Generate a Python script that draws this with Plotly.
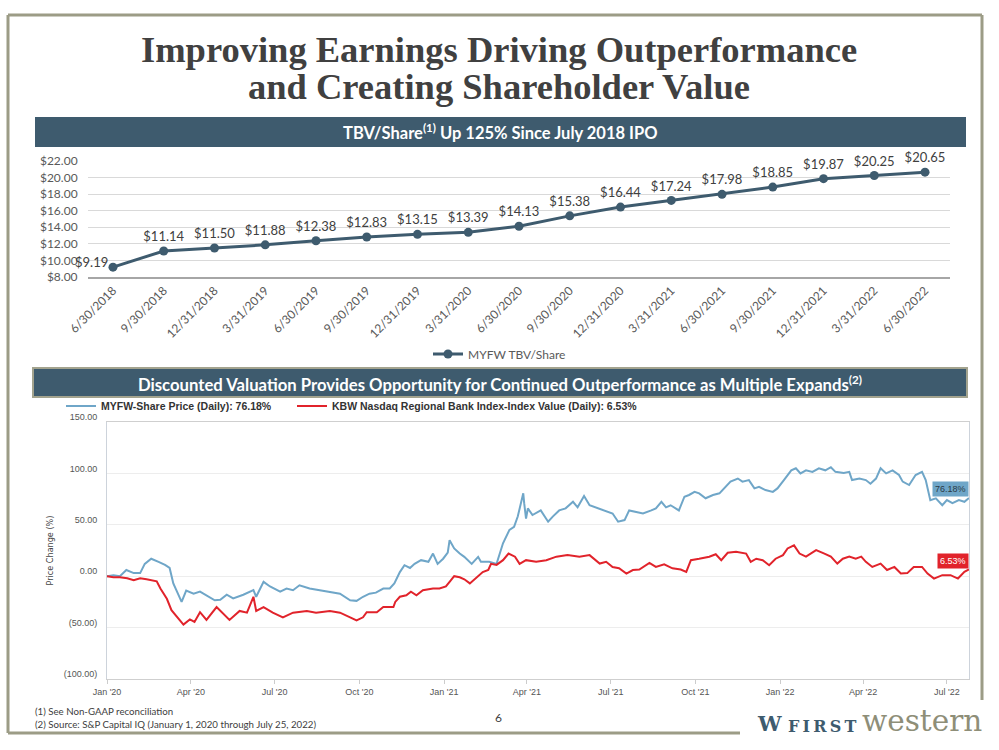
import plotly.graph_objects as go

W, H = 999, 750

# ---------------- data ----------------
tbv_dates = ["6/30/2018", "9/30/2018", "12/31/2018", "3/31/2019", "6/30/2019", "9/30/2019",
             "12/31/2019", "3/31/2020", "6/30/2020", "9/30/2020", "12/31/2020", "3/31/2021",
             "6/30/2021", "9/30/2021", "12/31/2021", "3/31/2022", "6/30/2022"]
tbv_values = [9.19, 11.14, 11.50, 11.88, 12.38, 12.83, 13.15, 13.39, 14.13, 15.38, 16.44,
              17.24, 17.98, 18.85, 19.87, 20.25, 20.65]

myfw_dates = [
    "2020-01-01", "2020-01-08", "2020-01-15", "2020-01-22", "2020-01-30",
    "2020-02-06", "2020-02-11", "2020-02-18", "2020-02-26",
    "2020-03-04", "2020-03-09", "2020-03-13", "2020-03-18", "2020-03-22", "2020-03-27",
    "2020-04-04", "2020-04-11", "2020-04-18", "2020-04-27",
    "2020-05-03", "2020-05-10", "2020-05-17", "2020-05-28",
    "2020-06-08", "2020-06-11", "2020-06-19", "2020-06-26",
    "2020-07-07", "2020-07-14", "2020-07-21", "2020-07-28",
    "2020-08-08", "2020-08-19", "2020-08-30",
    "2020-09-10", "2020-09-21", "2020-09-28",
    "2020-10-05", "2020-10-12", "2020-10-19", "2020-10-27",
    "2020-11-03", "2020-11-08", "2020-11-14", "2020-11-19", "2020-11-25", "2020-11-30",
    "2020-12-07", "2020-12-15", "2020-12-20", "2020-12-25", "2020-12-31",
    "2021-01-05", "2021-01-07", "2021-01-12", "2021-01-18", "2021-01-23", "2021-01-31",
    "2021-02-07", "2021-02-10", "2021-02-19", "2021-02-27",
    "2021-03-06", "2021-03-13", "2021-03-18", "2021-03-22", "2021-03-26", "2021-03-28",
    "2021-03-29", "2021-03-31",
    "2021-04-02", "2021-04-07", "2021-04-16", "2021-04-24", "2021-04-29",
    "2021-05-06", "2021-05-13", "2021-05-21", "2021-05-26",
    "2021-06-02", "2021-06-08", "2021-06-17", "2021-06-26",
    "2021-07-03", "2021-07-09", "2021-07-16", "2021-07-21", "2021-07-28",
    "2021-08-05", "2021-08-14", "2021-08-19", "2021-08-25", "2021-08-30",
    "2021-09-04", "2021-09-13", "2021-09-19", "2021-09-24", "2021-09-30",
    "2021-10-05", "2021-10-12", "2021-10-20", "2021-10-27",
    "2021-11-03", "2021-11-08", "2021-11-16", "2021-11-21", "2021-11-28",
    "2021-12-04", "2021-12-09", "2021-12-16", "2021-12-24", "2021-12-29",
    "2022-01-05", "2022-01-13", "2022-01-18", "2022-01-23", "2022-01-29",
    "2022-02-05", "2022-02-12", "2022-02-19", "2022-02-25",
    "2022-03-02", "2022-03-11", "2022-03-17", "2022-03-20", "2022-03-28",
    "2022-04-04", "2022-04-09", "2022-04-15", "2022-04-20", "2022-04-26",
    "2022-05-03", "2022-05-10", "2022-05-14", "2022-05-21", "2022-05-28",
    "2022-06-04", "2022-06-08", "2022-06-13", "2022-06-19", "2022-06-26",
    "2022-07-01", "2022-07-07", "2022-07-14", "2022-07-20", "2022-07-25"]
myfw_values = [
    0, 1, 0, 6, 3,
    3, 12, 17, 14,
    11, 8, -7, -17, -25, -14,
    -17, -15, -18.5, -23.4,
    -23, -18, -21.6, -18,
    -13.6, -20, -5.5, -10,
    -15, -12, -13.6, -8.8,
    -12, -13.6, -15,
    -17, -23.4, -24,
    -20, -17, -16, -12,
    -12, -7, 4, 10.7, 8, 12,
    15.6, 14, 22, 12, 17,
    23, 35, 27, 22, 18.8, 12,
    18.8, 14, 14, 12,
    32, 45, 48, 58, 74, 80.6,
    71, 56,
    66, 59.5, 64, 53, 58,
    64, 66, 72.4, 67,
    78, 69, 66, 62.7,
    61, 53, 54.6, 64, 62.7,
    61, 64, 66, 72.4, 67,
    69, 64, 77.3, 79, 82,
    80.6, 75.8, 79, 80.6,
    87, 92, 95, 92, 93.5,
    85.4, 87, 83.8, 82, 85.4,
    93.5, 103, 105, 100, 103,
    101.5, 105, 103, 106,
    101.5, 100.5, 101.5, 93.5, 95,
    93.5, 90, 95, 105, 100,
    103, 98.4, 92, 88.7, 98.4,
    101.5, 93.5, 74, 75.8, 69,
    74, 71, 74, 72.4, 76.18]

kbw_dates = [
    "2020-01-01", "2020-01-08", "2020-01-15", "2020-01-23", "2020-01-30",
    "2020-02-06", "2020-02-13", "2020-02-20", "2020-02-24", "2020-02-28",
    "2020-03-06", "2020-03-11", "2020-03-18", "2020-03-24", "2020-03-31",
    "2020-04-05", "2020-04-11", "2020-04-18", "2020-04-29",
    "2020-05-06", "2020-05-13", "2020-05-24",
    "2020-06-01", "2020-06-08", "2020-06-11", "2020-06-19", "2020-06-29",
    "2020-07-10", "2020-07-21",
    "2020-08-05", "2020-08-15", "2020-08-30",
    "2020-09-10", "2020-09-21", "2020-09-28",
    "2020-10-05", "2020-10-09", "2020-10-20", "2020-10-27",
    "2020-11-07", "2020-11-09", "2020-11-14", "2020-11-21", "2020-11-26",
    "2020-12-02", "2020-12-09", "2020-12-20", "2020-12-27",
    "2021-01-03", "2021-01-07", "2021-01-12", "2021-01-18", "2021-01-23", "2021-01-29",
    "2021-02-05", "2021-02-12", "2021-02-18", "2021-02-21", "2021-02-27",
    "2021-03-06", "2021-03-12", "2021-03-19", "2021-03-24", "2021-03-31",
    "2021-04-11", "2021-04-22",
    "2021-05-03", "2021-05-15", "2021-05-28",
    "2021-06-08", "2021-06-19", "2021-06-26",
    "2021-07-03", "2021-07-10", "2021-07-18", "2021-07-25",
    "2021-08-01", "2021-08-12", "2021-08-19", "2021-08-28",
    "2021-09-06", "2021-09-15", "2021-09-21", "2021-09-26",
    "2021-10-05", "2021-10-16", "2021-10-23", "2021-10-29",
    "2021-11-05", "2021-11-14", "2021-11-25", "2021-11-30",
    "2021-12-06", "2021-12-13", "2021-12-20", "2021-12-27",
    "2022-01-04", "2022-01-09", "2022-01-16", "2022-01-22", "2022-01-29",
    "2022-02-09", "2022-02-18", "2022-02-25",
    "2022-03-04", "2022-03-10", "2022-03-17", "2022-03-24", "2022-03-30",
    "2022-04-04", "2022-04-11", "2022-04-20", "2022-04-27",
    "2022-05-05", "2022-05-12", "2022-05-19", "2022-05-26",
    "2022-06-04", "2022-06-10", "2022-06-17", "2022-06-26",
    "2022-07-05", "2022-07-13", "2022-07-20", "2022-07-25"]
kbw_values = [
    0, -1, -1, -2, -4,
    -2, -3, -4, -5, -12,
    -22, -33, -40, -47, -42,
    -44.5, -35, -42.5, -30,
    -36.5, -42.5, -33.8,
    -35.5, -20, -33.8, -30, -35.5,
    -40, -35.5,
    -33.8, -35.5, -33.8,
    -35.5, -40, -43,
    -40, -35, -35, -30,
    -30, -25, -20, -18.5, -15,
    -18.5, -13.6, -12, -12,
    -10, -5.5, 0, -1, -3, -7,
    -1, 4, 6, 12, 11,
    15.6, 22, 19, 12, 15.6,
    14, 15.6,
    19, 20.5, 19,
    20.5, 12.3, 14,
    9, 7.7, 2.6, 6,
    6.5, 13, 9, 11.5,
    7.7, 6.5, 4.2, 15.6,
    17, 19, 21.4, 15.6,
    22.8, 23.7, 22, 14,
    17, 15.6, 10.7, 17,
    20.5, 27, 30, 22, 19,
    25.3, 22, 19,
    12.3, 17, 19, 17, 19,
    14, 9, 12.3, 6,
    9, 2.6, 3, 9,
    9, 2.6, -2.3, 1,
    1, -2.3, 4.2, 6.53]

pct_tickvals = [-100, -50, 0, 50, 100, 150]
pct_ticktext = ["(100.00)", "(50.00)", "0.00", "50.00", "100.00", "150.00"]

myfw_name = "MYFW-Share Price (Daily): 76.18%"
kbw_name = "KBW Nasdaq Regional Bank Index-Index Value (Daily): 6.53%"
myfw_last_label = "76.18%"
kbw_last_label = "6.53%"

# ---------------- style ----------------
SLATE = "#3E5B6E"
BLUE = "#6FA6C8"
RED = "#E1232B"
OLIVE = "#9C9C86"
TXT = "#404040"
SANS = "Lato, 'Open Sans', sans-serif"
ARIAL = "'Liberation Sans', Arial, sans-serif"
NARROW = "'Liberation Sans Narrow', 'DejaVu Sans Condensed', 'Liberation Sans', sans-serif"
TSERIF = "'Liberation Serif', 'DejaVu Serif', serif"
SERIF = "'DejaVu Serif', 'Liberation Serif', serif"


def fx(p):
    return p / W


def fy(p):
    return 1 - p / H


tbv_labels = ["$%.2f" % v for v in tbv_values]

fig = go.Figure()

# top chart (first label is placed as an annotation, to the left of its point)
fig.add_trace(go.Scatter(
    x=tbv_dates, y=tbv_values, mode="lines+markers+text",
    text=[""] + tbv_labels[1:], textposition="top center",
    textfont=dict(size=13, color=TXT, family=SANS),
    line=dict(color=SLATE, width=3), marker=dict(size=9, color=SLATE),
    name="MYFW TBV/Share", xaxis="x", yaxis="y", cliponaxis=False,
    legend="legend", hoverinfo="skip"))

# bottom chart
fig.add_trace(go.Scatter(
    x=myfw_dates, y=myfw_values, mode="lines", name=myfw_name,
    line=dict(color=BLUE, width=2), xaxis="x2", yaxis="y2", legend="legend2"))
fig.add_trace(go.Scatter(
    x=kbw_dates, y=kbw_values, mode="lines", name=kbw_name,
    line=dict(color=RED, width=2), xaxis="x2", yaxis="y2", legend="legend3"))

shapes = []
# slide frame
for (x0, y0, x1, y1) in [(8, 15, 982, 15), (8, 15, 8, 733), (8, 733, 740, 733), (982, 15, 982, 700)]:
    shapes.append(dict(type="line", xref="paper", yref="paper", x0=fx(x0), y0=fy(y0),
                       x1=fx(x1), y1=fy(y1), line=dict(color=OLIVE, width=3)))
# header bars
shapes.append(dict(type="rect", xref="paper", yref="paper", x0=fx(35), x1=fx(966),
                   y0=fy(147), y1=fy(117), fillcolor=SLATE, line=dict(width=0), layer="below"))
shapes.append(dict(type="rect", xref="paper", yref="paper", x0=fx(33), x1=fx(967),
                   y0=fy(397), y1=fy(368), fillcolor=SLATE, line=dict(color="#A3A38E", width=2),
                   layer="below"))

annotations = [
    dict(text=tbv_labels[0], x=tbv_dates[0], y=tbv_values[0], xref="x", yref="y",
         showarrow=False, xanchor="right", yanchor="middle", xshift=-3, yshift=5,
         font=dict(size=13, color=TXT, family=SANS)),
    dict(text="<b>Improving Earnings Driving Outperformance</b>",
         x=fx(499), y=fy(50), xref="paper", yref="paper", showarrow=False,
         font=dict(family=TSERIF, size=36.5, color=TXT), xanchor="center", yanchor="middle"),
    dict(text="<b>and Creating Shareholder Value</b>",
         x=fx(499), y=fy(86), xref="paper", yref="paper", showarrow=False,
         font=dict(family=TSERIF, size=36.5, color=TXT), xanchor="center", yanchor="middle"),
    dict(text="<b>TBV/Share<sup>(1)</sup> Up 125% Since July 2018 IPO</b>",
         x=fx(500), y=fy(132), xref="paper", yref="paper", showarrow=False,
         font=dict(family=SANS, size=16.5, color="white"), xanchor="center", yanchor="middle"),
    dict(text="<b>Discounted Valuation Provides Opportunity for Continued Outperformance as Multiple Expands<sup>(2)</sup></b>",
         x=fx(500), y=fy(383), xref="paper", yref="paper", showarrow=False,
         font=dict(family=SANS, size=16.7, color="white"), xanchor="center", yanchor="middle"),
    dict(text="(1) See Non-GAAP reconciliation<br>(2) Source: S&P Capital IQ (January 1, 2020 through July 25, 2022)",
         x=fx(33), y=fy(717), xref="paper", yref="paper", showarrow=False, align="left",
         font=dict(family=SANS, size=9.7, color=TXT), xanchor="left", yanchor="middle"),
    dict(text="6", x=fx(498), y=fy(717), xref="paper", yref="paper", showarrow=False,
         font=dict(family=SANS, size=12, color=TXT), xanchor="center", yanchor="middle"),
    # logo
    dict(text="<b>W</b>", x=fx(769), y=fy(723), xref="paper", yref="paper", showarrow=False,
         font=dict(family=SERIF, size=21, color=SLATE), xanchor="center", yanchor="middle"),
    dict(text="<b>F\u2009I\u2009R\u2009S\u2009T</b>", x=fx(786), y=fy(726), xref="paper", yref="paper",
         showarrow=False, font=dict(family=SERIF, size=16, color=SLATE),
         xanchor="left", yanchor="middle"),
    dict(text="western", x=fx(984), y=fy(721), xref="paper", yref="paper", showarrow=False,
         font=dict(family=SERIF, size=29.5, color="#8E8E78"), xanchor="right", yanchor="middle"),
    # end labels
    dict(text=myfw_last_label, x=myfw_dates[-1], y=myfw_values[-1], xref="x2", yref="y2",
         showarrow=False, xanchor="right", yanchor="middle", yshift=9, bgcolor=BLUE,
         font=dict(family=ARIAL, size=9, color="#2B3A44"), borderpad=2),
    dict(text=kbw_last_label, x=kbw_dates[-1], y=kbw_values[-1], xref="x2", yref="y2",
         showarrow=False, xanchor="right", yanchor="middle", yshift=8, bgcolor=RED,
         font=dict(family=ARIAL, size=9, color="white"), borderpad=2),
]

legend_small = dict(orientation="h", xanchor="left", y=fy(406), yanchor="middle",
                    font=dict(family=ARIAL, size=10.5, color="#333333", weight="bold"),
                    bgcolor="rgba(0,0,0,0)", itemwidth=30)

fig.update_layout(
    width=W, height=H, margin=dict(l=0, r=0, t=0, b=0, autoexpand=False),
    paper_bgcolor="white", plot_bgcolor="white", showlegend=True,
    xaxis=dict(domain=[fx(87.6), fx(950.4)], type="category", anchor="y", automargin=False,
               range=[-0.5, len(tbv_dates) - 0.5],
               tickangle=-45, tickfont=dict(family=SANS, size=12, color="#595959"),
               showgrid=False, showline=True, linecolor="#A6A6A6", linewidth=2,
               ticks="", fixedrange=True),
    yaxis=dict(domain=[fy(277), fy(161)], range=[8, 22], dtick=2, tick0=8, anchor="x",
               automargin=False,
               tickprefix="$", tickformat=".2f", gridcolor="#D9D9D9", gridwidth=1,
               zeroline=False, showline=False, ticklabelstandoff=9,
               tickfont=dict(family=SANS, size=12, color="#595959"), fixedrange=True),
    xaxis2=dict(domain=[fx(107), fx(969)], type="date", anchor="y2", automargin=False,
                range=["2020-01-01", "2022-07-25"], tick0="2020-01-01", dtick="M3",
                tickformat="%b '%y", ticks="outside", ticklen=4, tickcolor="#CCCCCC",
                showline=True, linecolor="#CFCFCF", linewidth=1, mirror=True,
                showgrid=False, tickfont=dict(family=ARIAL, size=9, color="#555555")),
    yaxis2=dict(domain=[fy(679), fy(422)], range=[-100, 150], anchor="x2", automargin=False,
                tickvals=pct_tickvals, ticktext=pct_ticktext,
                gridcolor="#EDEDED", showline=True, linecolor="#CDD3DB", linewidth=1,
                mirror=True, zeroline=False, ticklabelshift=-5, ticklabelstandoff=7,
                tickfont=dict(family=ARIAL, size=9, color="#555555"),
                title=dict(text="Price Change (%)", standoff=8,
                           font=dict(family=NARROW, size=9, color="#444444"))),
    legend=dict(orientation="h", x=0.5, xanchor="center", y=fy(354), yanchor="middle",
                font=dict(family=SANS, size=12, color="#595959"), bgcolor="rgba(0,0,0,0)"),
    legend2=dict(legend_small, x=fx(61)),
    legend3=dict(legend_small, x=fx(292)),
    shapes=shapes, annotations=annotations,
)

fig.write_html("out.html", include_plotlyjs=True, config={"displayModeBar": False},
               post_script="document.body.style.margin='0';")
